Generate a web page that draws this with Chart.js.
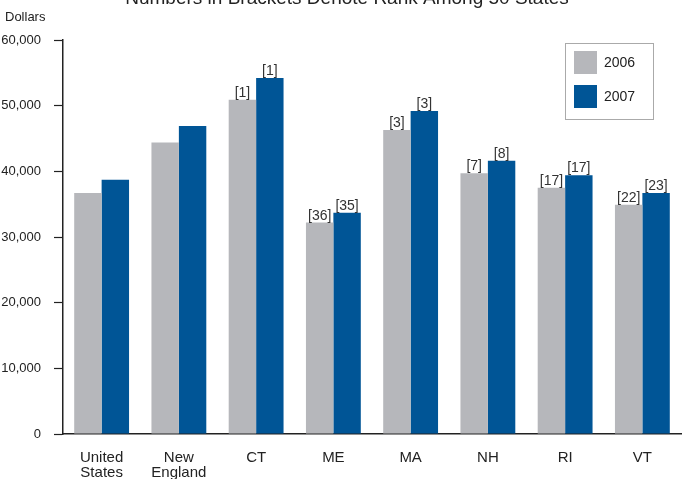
<!DOCTYPE html>
<html>
<head>
<meta charset="utf-8">
<script src="https://cdn.jsdelivr.net/npm/chart.js@4"></script>
<style>
  html, body { margin: 0; padding: 0; background: #fff; }
  #wrap { width: 683px; height: 479px; position: relative; }
</style>
</head>
<body>
<div id="wrap"><canvas id="grafica"></canvas></div>
<script>
// datos
var categorias = [["United", "States"], ["New", "England"], "CT", "ME", "MA", "NH", "RI", "VT"];
var valores2006 = [36700, 44400, 50900, 32200, 46300, 39700, 37500, 34900];
var valores2007 = [38700, 46900, 54200, 33700, 49200, 41600, 39400, 36700];
var rango2006 = [null, null, 1, 36, 3, 7, 17, 22];
var rango2007 = [null, null, 1, 35, 3, 8, 17, 23];
var marcasY = [0, 10000, 20000, 30000, 40000, 50000, 60000];

var titulo = "Numbers in Brackets Denote Rank Among 50 States";
var fuente = "'Liberation Sans', Arial, sans-serif";

var colorGris = "#b6b7bb";
var colorAzul = "#005596";

// dibuja titulo, etiqueta de eje, rangos y la leyenda
var extras = {
  id: "extras",
  afterDraw: function (chart) {
    var ctx = chart.ctx;
    ctx.save();
    ctx.fillStyle = "#222";
    ctx.textAlign = "center";
    ctx.textBaseline = "alphabetic";
    ctx.font = "19px " + fuente;
    ctx.fillText(titulo, 347, 4);

    ctx.textAlign = "left";
    ctx.font = "13px " + fuente;
    ctx.fillText("Dollars", 5, 21);

    // rangos entre corchetes
    ctx.font = "14px " + fuente;
    ctx.fillStyle = "#333";
    ctx.textAlign = "center";
    [rango2006, rango2007].forEach(function (rangos, i) {
      var meta = chart.getDatasetMeta(i);
      meta.data.forEach(function (bar, j) {
        if (rangos[j] === null) return;
        ctx.fillText("[" + rangos[j] + "]", bar.x, bar.y - 3);
      });
    });

    // leyenda con recuadro
    ctx.strokeStyle = "#aaa";
    ctx.lineWidth = 1;
    ctx.strokeRect(565.5, 43.5, 88, 76);
    chart.data.datasets.forEach(function (ds, i) {
      var y = 51 + i * 34;
      ctx.fillStyle = ds.backgroundColor;
      ctx.fillRect(574, y, 23, 23);
      ctx.fillStyle = "#222";
      ctx.textAlign = "left";
      ctx.textBaseline = "middle";
      ctx.font = "14px " + fuente;
      ctx.fillText(ds.label, 604, y + 12);
    });
    ctx.restore();
  }
};

new Chart("grafica", {
  type: "bar",
  data: {
    labels: categorias,
    datasets: [{
      label: "2006",
      data: valores2006,
      backgroundColor: colorGris,
      categoryPercentage: 0.71,
      barPercentage: 1.0
    }, {
      label: "2007",
      data: valores2007,
      backgroundColor: colorAzul,
      categoryPercentage: 0.71,
      barPercentage: 1.0
    }]
  },
  options: {
    responsive: true,
    maintainAspectRatio: false,
    animation: false,
    layout: { padding: { top: 40, right: 2, left: 0, bottom: 0 } },
    plugins: {
      legend: { display: false },
      tooltip: { enabled: false }
    },
    scales: {
      x: {
        grid: { display: false, drawTicks: false },
        border: { display: true, color: "#222", width: 1.5 },
        ticks: {
          color: "#222",
          font: { family: fuente, size: 15, lineHeight: 1.0 },
          padding: 16,
          maxRotation: 0,
          autoSkip: false
        },
        afterFit: function (scale) { scale.height = 45; }
      },
      y: {
        min: 0,
        max: 60000,
        afterBuildTicks: function (scale) {
          scale.ticks = marcasY.map(function (v) { return { value: v }; });
        },
        grid: {
          drawOnChartArea: false,
          drawTicks: true,
          tickLength: 9,
          tickColor: "#222",
          tickWidth: 1.2
        },
        border: { display: true, color: "#222", width: 1.5 },
        ticks: {
          color: "#222",
          font: { family: fuente, size: 13 },
          padding: 13,
          callback: function (v) { return v.toLocaleString("en-US"); }
        },
        afterFit: function (scale) { scale.width = 63; }
      }
    }
  },
  plugins: [extras]
});
</script>
</body>
</html>
